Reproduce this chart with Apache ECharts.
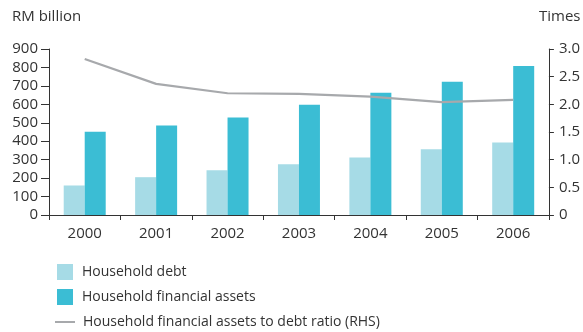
<!DOCTYPE html>
<html>
<head>
<meta charset="utf-8">
<script src="https://cdn.jsdelivr.net/npm/echarts@6/dist/echarts.min.js"></script>
<style>
  html, body { margin: 0; padding: 0; background: #fff; }
  #chart { width: 583px; height: 332px; }
</style>
</head>
<body>
<div id="chart"></div>
<script>
// Malaysian household balance sheet, 2000-2006
const years = ['2000', '2001', '2002', '2003', '2004', '2005', '2006'];
const householdDebt = [160, 205, 242, 275, 312, 356, 393];           // RM billion
const householdAssets = [452, 485, 528, 598, 663, 722, 808];          // RM billion
const assetsToDebtRatio = [2.82, 2.37, 2.20, 2.19, 2.14, 2.04, 2.08]; // times (RHS)
const leftTicks = { min: 0, max: 900, interval: 100 };
const rightTicks = { min: 0, max: 3, interval: 0.5 };

const FONT = '"Open Sans", "Noto Sans", sans-serif';
const INK = '#333333';
const DEBT_COLOR = '#a6dbe6';
const ASSET_COLOR = '#3bbdd4';
const RATIO_COLOR = '#a7a9ac';

const chart = echarts.init(document.getElementById('chart'), null, { renderer: 'canvas' });

const legendText = { fontFamily: FONT, fontSize: 14, color: INK, padding: [0, 0, 0, 4] };

chart.setOption({
  animation: false,
  textStyle: { fontFamily: FONT },
  title: [
    { text: 'RM billion', left: 7, top: 4,
      textStyle: { fontFamily: FONT, fontSize: 15, fontWeight: 'normal', color: INK } },
    { text: 'Times', left: 534, top: 4,
      textStyle: { fontFamily: FONT, fontSize: 15, fontWeight: 'normal', color: INK } }
  ],
  grid: { left: 49, right: 34, top: 49, bottom: 117 },
  legend: [
    { data: [{ name: 'Household debt', icon: 'rect' }], left: 52, top: 259,
      itemWidth: 16, itemHeight: 16, textStyle: legendText, selectedMode: false },
    { data: [{ name: 'Household financial assets', icon: 'rect' }], left: 52, top: 284,
      itemWidth: 16, itemHeight: 16, textStyle: legendText, selectedMode: false },
    { data: [{ name: 'Household financial assets to debt ratio (RHS)', icon: 'rect' }],
      left: 50, top: 310, itemWidth: 20, itemHeight: 2,
      textStyle: Object.assign({}, legendText, { padding: [0, 0, 0, 3] }),
      selectedMode: false }
  ],
  xAxis: {
    type: 'category',
    data: years,
    boundaryGap: true,
    axisLine: { lineStyle: { color: INK, width: 1 } },
    axisTick: { show: true, length: 5, lineStyle: { color: INK } },
    axisLabel: { color: INK, fontSize: 15, margin: 11, fontFamily: FONT }
  },
  yAxis: [
    {
      type: 'value',
      min: leftTicks.min, max: leftTicks.max, interval: leftTicks.interval,
      position: 'left',
      axisLine: { show: true, lineStyle: { color: INK, width: 1 } },
      axisTick: { show: true, length: 8, lineStyle: { color: INK } },
      axisLabel: { color: INK, fontSize: 15, margin: 11, fontFamily: FONT },
      splitLine: { show: false }
    },
    {
      type: 'value',
      min: rightTicks.min, max: rightTicks.max, interval: rightTicks.interval,
      position: 'right',
      axisLine: { show: true, lineStyle: { color: INK, width: 1 } },
      axisTick: { show: true, length: 5, lineStyle: { color: INK } },
      axisLabel: {
        color: INK, fontSize: 15, margin: 10, fontFamily: FONT,
        formatter: v => (v === 0 ? '0' : v.toFixed(1))
      },
      splitLine: { show: false }
    }
  ],
  series: [
    {
      name: 'Household debt',
      type: 'bar',
      data: householdDebt,
      yAxisIndex: 0,
      barWidth: 21,
      barGap: '0%',
      itemStyle: { color: DEBT_COLOR }
    },
    {
      name: 'Household financial assets',
      type: 'bar',
      data: householdAssets,
      yAxisIndex: 0,
      barWidth: 21,
      barGap: '0%',
      itemStyle: { color: ASSET_COLOR }
    },
    {
      name: 'Household financial assets to debt ratio (RHS)',
      type: 'line',
      data: assetsToDebtRatio,
      yAxisIndex: 1,
      symbol: 'none',
      lineStyle: { color: RATIO_COLOR, width: 2.2 },
      itemStyle: { color: RATIO_COLOR },
      z: 5
    }
  ]
});
</script>
</body>
</html>
